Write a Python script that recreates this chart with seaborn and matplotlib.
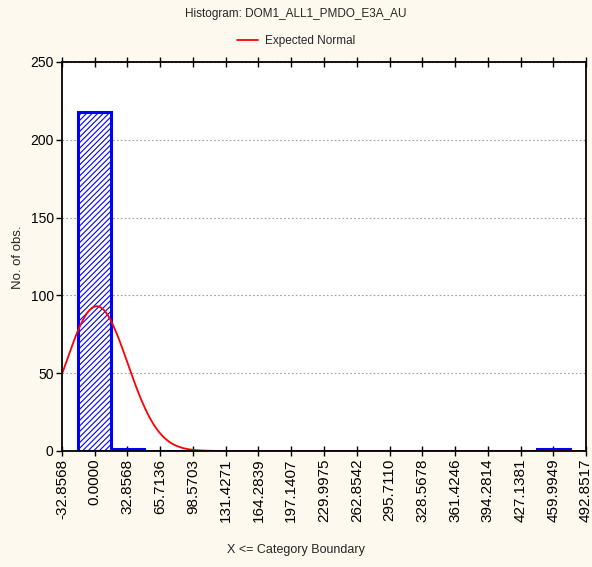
import numpy as np
import pandas as pd
import matplotlib
matplotlib.use("Agg")
import matplotlib.pyplot as plt
import seaborn as sns

# histogram data (bin centres = category boundaries shifted by half a bin)
bin_width = 32.8568
tick_values = [-32.8568, 0.0000, 32.8568, 65.7136, 98.5703, 131.4271, 164.2839,
               197.1407, 229.9975, 262.8542, 295.7110, 328.5678, 361.4246,
               394.2814, 427.1381, 459.9949, 492.8517]
tick_labels = ["-32.8568", "0.0000", "32.8568", "65.7136", "98.5703", "131.4271",
               "164.2839", "197.1407", "229.9975", "262.8542", "295.7110",
               "328.5678", "361.4246", "394.2814", "427.1381", "459.9949",
               "492.8517"]
bin_centers = [0.0000, 32.8568, 65.7136, 98.5703, 131.4271, 164.2839, 197.1407,
               229.9975, 262.8542, 295.7110, 328.5678, 361.4246, 394.2814,
               427.1381, 459.9949]
counts = [218, 1, 0, 0, 0, 0, 0, 0, 0, 0, 0, 0, 0, 0, 1]

# expected normal parameters
norm_mean = 2.0
norm_sd = 31.0

sns.set_theme(style="white")
plt.rcParams['font.family'] = ['Liberation Sans', 'DejaVu Sans']
plt.rcParams['hatch.color'] = "#2a2aff"
plt.rcParams['hatch.linewidth'] = 0.8

bg = "#fdf9ee"
fig = plt.figure(figsize=(5.92, 5.67), dpi=100, facecolor=bg)
ax = fig.add_axes([0.1047, 0.2046, 0.8852, 0.6861])
ax.set_facecolor("white")

df = pd.DataFrame({"x": bin_centers, "n": counts})
edges = [tick_values[0] + bin_width / 2 + i * bin_width for i in range(len(bin_centers) + 1)]
sns.histplot(data=df, x="x", weights="n", bins=edges, ax=ax,
             color="white", edgecolor="#0000ff", linewidth=2.2, alpha=1)
for p in ax.patches:
    p.set_hatch("//////")

n_total = sum(counts)
xs = np.linspace(tick_values[0], tick_values[-1], 600)
ys = n_total * bin_width / (norm_sd * np.sqrt(2 * np.pi)) * np.exp(-0.5 * ((xs - norm_mean) / norm_sd) ** 2)
sns.lineplot(x=xs, y=ys, ax=ax, color="red", linewidth=1.3, label="Expected Normal")

ax.set_xlim(tick_values[0], tick_values[-1])
ax.set_ylim(0, 250)
ax.set_xticks(tick_values)
ax.set_xticklabels(tick_labels, rotation=90, fontsize=11)
ax.set_yticks([0, 50, 100, 150, 200, 250])
ax.set_yticklabels(["0", "50", "100", "150", "200", "250"], fontsize=10)
ax.tick_params(axis="x", direction="inout", length=7, width=1, pad=2, bottom=True, top=True, colors="black")
ax.tick_params(axis="y", direction="out", length=4, width=1, pad=2, left=True, colors="black")
for s in ax.spines.values():
    s.set_color("black")
    s.set_linewidth(1.3)
ax.yaxis.grid(True, linestyle=(0, (1.5, 2)), color="#a0a0a0", linewidth=0.8)
ax.xaxis.grid(False)
ax.set_axisbelow(True)

ax.set_xlabel("")
ax.set_ylabel("")
fig.text(0.5, 1 - 550 / 567, "X <= Category Boundary", ha="center", va="center", fontsize=9)
fig.text(18 / 592, 1 - 257 / 567, "No. of obs.", ha="center", va="center", rotation=90, fontsize=9.5)
ax.legend(loc="center", bbox_to_anchor=(0.5, 1 - 41 / 567), bbox_transform=fig.transFigure,
          frameon=False, fontsize=8.5, handlelength=1.8, handletextpad=0.6)
fig.text(0.5, 1 - 14 / 567, "Histogram: DOM1_ALL1_PMDO_E3A_AU", ha="center", va="center", fontsize=8.5)

fig.savefig("out.png", dpi=100, facecolor=bg)
